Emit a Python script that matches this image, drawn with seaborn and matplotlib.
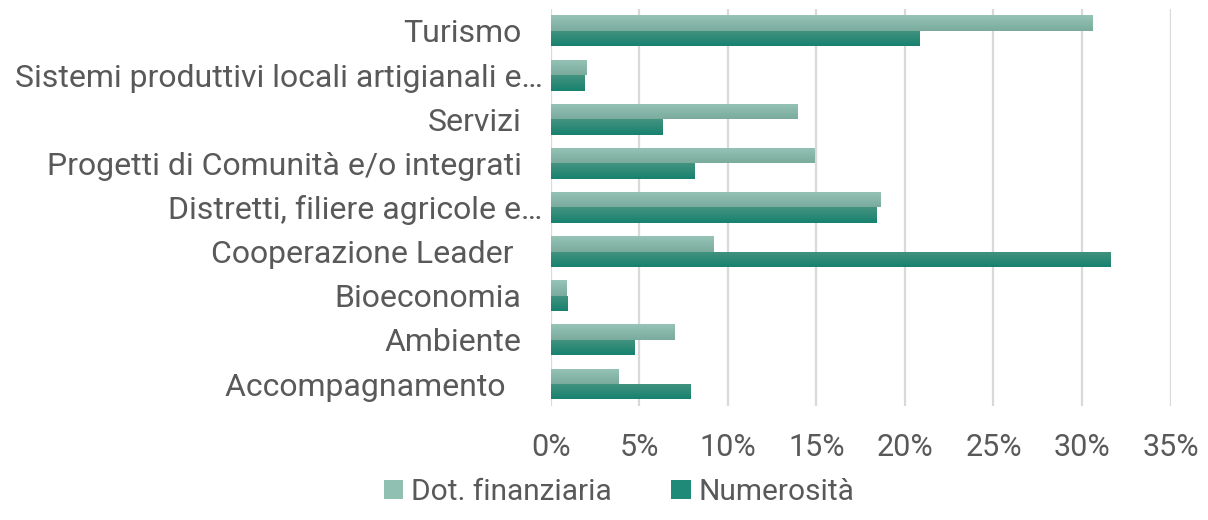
import matplotlib
matplotlib.use("Agg")
import matplotlib.pyplot as plt
import numpy as np
import pandas as pd
import seaborn as sns
from matplotlib.colors import LinearSegmentedColormap
from matplotlib.patches import Patch
from matplotlib.transforms import ScaledTranslation

# categories, top to bottom as shown
categories = [
    "Turismo",
    "Sistemi produttivi locali artigianali e…",
    "Servizi",
    "Progetti di Comunità e/o integrati",
    "Distretti, filiere agricole e…",
    "Cooperazione Leader ",
    "Bioeconomia",
    "Ambiente",
    "Accompagnamento  ",
]
dot_finanziaria = [30.6, 2.0, 13.9, 14.9, 18.6, 9.2, 0.85, 7.0, 3.8]
numerosita = [20.8, 1.9, 6.3, 8.1, 18.4, 31.6, 0.95, 4.7, 7.9]
series_names = ["Dot. finanziaria", "Numerosità"]
colors = ["#8fc0b2", "#1e8a77"]
# top -> bottom shading of each bar
gradients = [("#96c4b7", "#7aab9d"), ("#43937f", "#17826f")]

df = pd.DataFrame({
    "categoria": categories * 2,
    "valore": dot_finanziaria + numerosita,
    "serie": [series_names[0]] * len(categories) + [series_names[1]] * len(categories),
})

sns.set_theme(style="white")
plt.rcParams["font.family"] = ["Roboto", "DejaVu Sans"]

fig = plt.figure(figsize=(12.08, 5.2), dpi=100)
ax = fig.add_axes([0.456, 0.219, 0.513, 0.764])

sns.barplot(
    data=df, y="categoria", x="valore", hue="serie",
    palette=colors, orient="h", width=0.7, gap=0, linewidth=0,
    saturation=1, errorbar=None, legend=False, ax=ax,
)

# vertical gradient inside each bar
ylim = ax.get_ylim()
for cont, (c_top, c_bot) in zip(ax.containers, gradients):
    cmap = LinearSegmentedColormap.from_list("g", [c_top, c_bot])
    grad = np.linspace(0, 1, 64).reshape(-1, 1)
    for bar in cont:
        x0, y0 = bar.get_x(), bar.get_y()
        w, h = bar.get_width(), bar.get_height()
        im = ax.imshow(grad, cmap=cmap, aspect="auto", origin="upper",
                       extent=(x0, x0 + w, y0 + h, y0), zorder=bar.get_zorder())
        im.set_clip_path(bar)
ax.set_ylim(ylim)

ax.set_xlim(0, 35)
ax.set_xticks(range(0, 36, 5))
ax.set_xticklabels([f"{t}%" for t in range(0, 36, 5)])
ax.grid(axis="x", color="#d9d9d9", linewidth=1.6)
ax.set_axisbelow(True)
for s in ax.spines.values():
    s.set_visible(False)
ax.set_xlabel("")
ax.set_ylabel("")
ax.tick_params(axis="y", length=0, pad=21, labelsize=23, labelcolor="#595959")
ax.tick_params(axis="x", length=0, pad=19, labelsize=22, labelcolor="#595959")

# truncated labels sit a bit further right, as in the original
for lab in ax.get_yticklabels():
    if lab.get_text().endswith("…"):
        lab.set_transform(lab.get_transform() + ScaledTranslation(0.21, 0, fig.dpi_scale_trans))

handles = [Patch(facecolor=c, edgecolor="none") for c in colors]
leg = fig.legend(
    handles, series_names, loc="center", bbox_to_anchor=(619 / 1208, 1 - 492 / 520),
    ncol=2, frameon=False, fontsize=21.5, handlelength=0.65, handleheight=0.65,
    handletextpad=0.25, columnspacing=2.0,
)
for t in leg.get_texts():
    t.set_color("#595959")

fig.savefig("out.png", dpi=100)
